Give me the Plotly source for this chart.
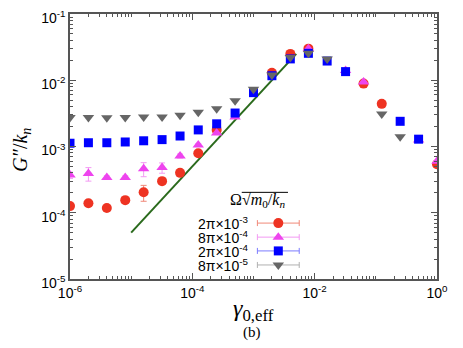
import plotly.graph_objects as go

# strain amplitude
gamma = [1e-6, 2e-6, 4e-6, 8e-6, 1.6e-5, 3.2e-5, 6.3e-5, 1.25e-4, 2.5e-4, 5e-4, 1e-3,
         2e-3, 4e-3, 7.9e-3, 1.6e-2, 3.2e-2, 6.3e-2, 0.125, 0.25, 0.5, 1.0]

# G''/k_n for each frequency (None = hidden behind other symbols)
g_2pi_e3 = [1.26e-4, 1.39e-4, 1.18e-4, 1.55e-4, 2.04e-4, 3.0e-4, 4.0e-4, 7.9e-4, 1.78e-3, None, None,
            1.3e-2, 2.5e-2, 3.0e-2, None, None, 8.9e-3, 4.4e-3, None, None, 5.4e-4]
g_8pi_e4 = [3.7e-4, 3.9e-4, 3.4e-4, 3.4e-4, 4.6e-4, 4.8e-4, 7.2e-4, 1.05e-3, 1.6e-3, 2.8e-3, None,
            None, None, 3.0e-2, None, 1.4e-2, 9.4e-3, None, None, 1.25e-3, 6.0e-4]
g_2pi_e4 = [1.12e-3, 1.14e-3, 1.14e-3, 1.17e-3, 1.22e-3, 1.27e-3, 1.44e-3, 1.78e-3, 2.2e-3, 3.2e-3, 6.5e-3,
            1.17e-2, 2.1e-2, 2.55e-2, 1.95e-2, 1.35e-2, None, None, 2.4e-3, 1.29e-3, None]
g_8pi_e5 = [2.75e-3, 2.75e-3, 2.72e-3, 2.75e-3, 2.8e-3, 2.8e-3, 2.95e-3, 3.3e-3, 3.7e-3, 4.9e-3, 7.3e-3,
            1.2e-2, 2.2e-2, 2.55e-2, 2.1e-2, None, None, 3.1e-3, 1.4e-3, None, None]

err_2pi_e3 = [1e-5, 1e-5, 1e-5, 1.5e-5, 5.5e-5, 2e-5, 2e-5, 3e-5, 0, 0, 0, 0, 0, 0, 0, 0, 0, 0, 0, 0, 0]
err_8pi_e4 = [4e-5, 9e-5, 2e-5, 2e-5, 1.1e-4, 8.5e-5, 5e-5, 5e-5, 0, 0, 0, 0, 0, 0, 0, 0, 0, 0, 0, 0, 0]

# slope-1 guide line
line_x = [1e-5, 5e-3]
line_y = [5e-5, 2.5e-2]

x_ticks = [1e-6, 1e-4, 1e-2, 1]
x_ticktext = ["10<sup>-6</sup>", "10<sup>-4</sup>", "10<sup>-2</sup>", "10<sup>0</sup>"]
y_ticks = [1e-5, 1e-4, 1e-3, 1e-2, 1e-1]
y_ticktext = ["10<sup>-5</sup>", "10<sup>-4</sup>", "10<sup>-3</sup>", "10<sup>-2</sup>", "10<sup>-1</sup>"]

labels = ["2π×10<sup>-3</sup>", "8π×10<sup>-4</sup>", "2π×10<sup>-4</sup>", "8π×10<sup>-5</sup>"]
legend_row = [0.211, 0.158, 0.106, 0.053]

series = [
    (g_2pi_e3, err_2pi_e3, "#ee3322", "#f08878", "circle", 10),
    (g_8pi_e4, err_8pi_e4, "#ee44ee", "#f39af3", "triangle-up", 10),
    (g_2pi_e4, None, "#0000ff", "#7c7cff", "square", 9),
    (g_8pi_e5, None, "#666666", "#b0b0b0", "triangle-down", 10),
]

fig = go.Figure()

fig.add_trace(go.Scatter(x=line_x, y=line_y, mode="lines",
                         line=dict(color="#2a6a1c", width=2), showlegend=False))

for (vals, err, col, ecol, sym, sz), lab, ry in zip(series, labels, legend_row):
    ey = None
    if err is not None:
        ey = dict(type="data", array=err, symmetric=True, color=ecol, thickness=1, width=3)
    fig.add_trace(go.Scatter(x=gamma, y=vals, mode="markers", error_y=ey,
                             marker=dict(symbol=sym, size=sz, color=col), showlegend=False))
    # key sample on overlay axes
    fig.add_trace(go.Scatter(x=[0.5676], y=[ry], xaxis="x2", yaxis="y2", mode="markers",
                             marker=dict(symbol=sym, size=sz, color=col),
                             error_x=dict(type="constant", value=0.057, color=ecol, thickness=1, width=3),
                             showlegend=False))
    fig.add_annotation(x=0.49, y=ry, xref="paper", yref="paper", text=lab, showarrow=False,
                       xanchor="right", yanchor="middle",
                       font=dict(family="Liberation Sans", size=14, color="black"))

axis_common = dict(type="log", showgrid=False, zeroline=False, showline=True, linecolor="#555555",
                   linewidth=1.5, mirror="ticks", ticks="inside", ticklen=6, tickcolor="#555555",
                   automargin=False, tickmode="array", ticklabeloverflow="allow",
                   tickfont=dict(family="Liberation Sans", size=14, color="black"),
                   minor=dict(ticks="inside", ticklen=3, dtick="D1", tickcolor="#555555", showgrid=False))

# the page adds an 8px body margin, so margins are reduced by 8px on left/top
fig.update_layout(
    width=463, height=348,
    margin=dict(l=62, r=34, t=6, b=77),
    paper_bgcolor="white", plot_bgcolor="white",
    xaxis=dict(axis_common, range=[-6, 0], tickvals=x_ticks, ticktext=x_ticktext),
    yaxis=dict(axis_common, range=[-5, -1], tickvals=y_ticks, ticktext=y_ticktext,
               ticklabelshift=4),
    xaxis2=dict(overlaying="x", anchor="y2", range=[0, 1], visible=False),
    yaxis2=dict(overlaying="y", anchor="x2", range=[0, 1], visible=False),
)

serif = "Liberation Serif"
fig.add_annotation(x=-0.131, y=0.487, xref="paper", yref="paper", textangle=-90,
                   xanchor="center", yanchor="middle",
                   text="<i>G″</i>/<i>k<sub>n</sub></i>", showarrow=False,
                   font=dict(family=serif, size=20, color="black"))
fig.add_annotation(x=0.499, y=-0.117, xref="paper", yref="paper",
                   xanchor="center", yanchor="middle",
                   text="<i>γ</i><sub>0,eff</sub>", showarrow=False,
                   font=dict(family=serif, size=24, color="black"))
fig.add_annotation(x=0.496, y=-0.2, xref="paper", yref="paper", text="(b)", showarrow=False,
                   xanchor="center", yanchor="middle",
                   font=dict(family=serif, size=15, color="black"))
fig.add_annotation(x=0.51, y=0.298, xref="paper", yref="paper",
                   xanchor="center", yanchor="middle",
                   text="Ω√<i>m</i><sub>0</sub>/<i>k<sub>n</sub></i>", showarrow=False,
                   font=dict(family=serif, size=16, color="black"))
fig.add_shape(type="line", xref="paper", yref="paper", x0=0.468, x1=0.594, y0=0.327, y1=0.327,
              line=dict(color="black", width=1))

fig.write_html("out.html")
